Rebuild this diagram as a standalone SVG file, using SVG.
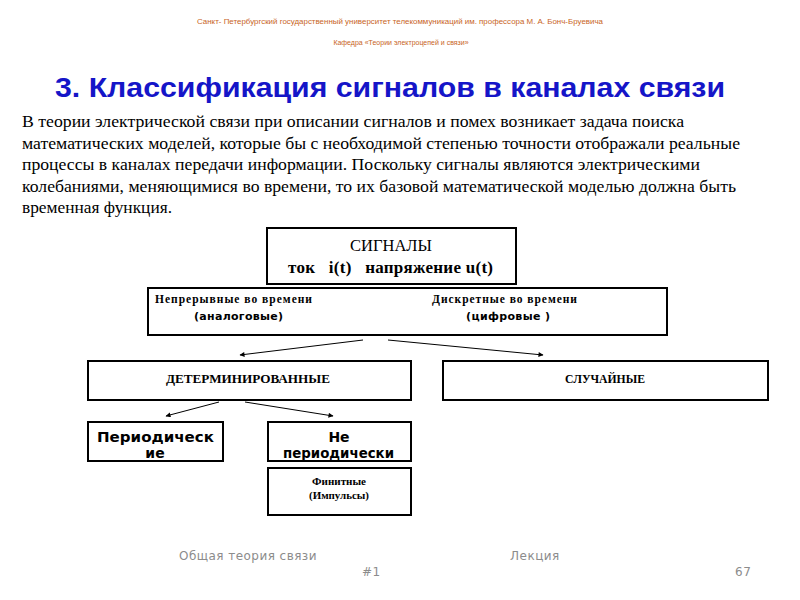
<svg xmlns="http://www.w3.org/2000/svg" width="800" height="600" viewBox="0 0 800 600">
<defs>
<marker id="ah" viewBox="0 0 10 10" refX="9" refY="5" markerWidth="6" markerHeight="5" orient="auto" markerUnits="userSpaceOnUse">
<path d="M0,0 L10,5 L0,10 z" fill="#000"/>
</marker>
<style>
.box{fill:#fff;stroke:#000;stroke-width:2}
.hdr{font-family:"Liberation Sans",Arial,sans-serif;font-size:7px;fill:#c8641e}
.serif{font-family:"Liberation Serif","Times New Roman",serif;fill:#000}
.sans{font-family:"DejaVu Sans","Liberation Sans",sans-serif;fill:#000}
.foot{font-family:"DejaVu Sans","Liberation Sans",sans-serif;font-size:12px;fill:#8c8c8c;letter-spacing:0.5px}
.conn{stroke:#000;stroke-width:1;fill:none;marker-end:url(#ah)}
</style>
</defs>
<rect width="800" height="600" fill="#fff"/>
<text class="hdr" x="400" y="24" text-anchor="middle" textLength="406" lengthAdjust="spacingAndGlyphs">Санкт- Петербургский государственный университет телекоммуникаций им. профессора  М. А. Бонч-Бруевича</text>
<text class="hdr" x="401" y="45" text-anchor="middle" font-family="Liberation Serif" font-size="8">Кафедра «Теории электроцепей и связи»</text>
<text x="55" y="97" font-family="Liberation Sans,Arial,sans-serif" font-weight="bold" font-size="27" fill="#1515c8" textLength="670" lengthAdjust="spacingAndGlyphs">3. Классификация сигналов в каналах связи</text>
<g class="serif" font-size="17">
<text x="22" y="127" textLength="662" lengthAdjust="spacingAndGlyphs">В теории электрической связи при описании сигналов и помех возникает задача поиска</text>
<text x="22" y="149" textLength="718" lengthAdjust="spacingAndGlyphs">математических моделей, которые бы с необходимой степенью точности отображали реальные</text>
<text x="22" y="170" textLength="678" lengthAdjust="spacingAndGlyphs">процессы в каналах передачи информации. Поскольку сигналы являются электрическими</text>
<text x="22" y="192" textLength="714" lengthAdjust="spacingAndGlyphs">колебаниями, меняющимися во времени, то их базовой математической моделью должна быть</text>
<text x="22" y="213" textLength="150" lengthAdjust="spacingAndGlyphs">временная функция.</text>
</g>
<g id="signals">
<rect class="box" x="267" y="228" width="249" height="56"/>
<text class="serif" x="391" y="251" font-size="16.5" text-anchor="middle">СИГНАЛЫ</text>
<text class="serif" x="288" y="273" font-size="17" font-weight="bold" textLength="205" lengthAdjust="spacing" xml:space="preserve">ток   i(t)   напряжение u(t)</text>
</g>
<g id="continuous-discrete">
<rect class="box" x="148" y="288" width="519" height="47" stroke-width="2.5"/>
<text class="serif" x="155" y="303" font-size="11.5" font-weight="bold" textLength="157" lengthAdjust="spacing">Непрерывные во времени</text>
<text class="sans" x="194" y="320" font-size="11" font-weight="bold" textLength="89" lengthAdjust="spacing">(аналоговые)</text>
<text class="serif" x="432" y="303" font-size="11.5" font-weight="bold" textLength="145" lengthAdjust="spacing">Дискретные во времени</text>
<text class="sans" x="466" y="320" font-size="11" font-weight="bold" textLength="84" lengthAdjust="spacing">(цифровые )</text>
</g>
<g id="deterministic">
<rect class="box" x="88" y="361" width="323" height="39"/>
<text class="serif" x="166" y="383" font-size="12" font-weight="bold" textLength="164" lengthAdjust="spacingAndGlyphs">ДЕТЕРМИНИРОВАННЫЕ</text>
</g>
<g id="random">
<rect class="box" x="443" y="361" width="325" height="39"/>
<text class="serif" x="565" y="383" font-size="12" font-weight="bold" textLength="80" lengthAdjust="spacingAndGlyphs">СЛУЧАЙНЫЕ</text>
</g>
<g id="periodic">
<rect class="box" x="88" y="422" width="135" height="39"/>
<text class="sans" x="97" y="442" font-size="14" font-weight="bold" textLength="117" lengthAdjust="spacingAndGlyphs">Периодическ</text>
<text class="sans" x="155" y="458" font-size="14" font-weight="bold" text-anchor="middle">ие</text>
</g>
<g id="nonperiodic">
<rect class="box" x="268" y="422" width="143" height="39"/>
<text class="sans" x="339" y="442" font-size="14" font-weight="bold" text-anchor="middle">Не</text>
<text class="sans" x="283" y="458" font-size="14" font-weight="bold" textLength="111" lengthAdjust="spacingAndGlyphs">периодически</text>
</g>
<g id="finite">
<rect class="box" x="268" y="468" width="143" height="47"/>
<text class="serif" x="312" y="485" font-size="9.5" font-weight="bold" textLength="54" lengthAdjust="spacingAndGlyphs">Финитные</text>
<text class="serif" x="309" y="499" font-size="10" font-weight="bold" textLength="60" lengthAdjust="spacingAndGlyphs">(Импульсы)</text>
</g>
<g id="connectors">
<line class="conn" x1="363" y1="340" x2="240" y2="355"/>
<line class="conn" x1="388" y1="340" x2="543" y2="355"/>
<line class="conn" x1="219" y1="402" x2="166" y2="416"/>
<line class="conn" x1="245" y1="402" x2="333" y2="416"/>
</g>
<text class="foot" x="179" y="560" textLength="138" lengthAdjust="spacing">Общая теория связи</text>
<text class="foot" x="510" y="560">Лекция</text>
<text class="foot" x="362" y="576">#1</text>
<text class="foot" x="735" y="576">67</text>
</svg>
